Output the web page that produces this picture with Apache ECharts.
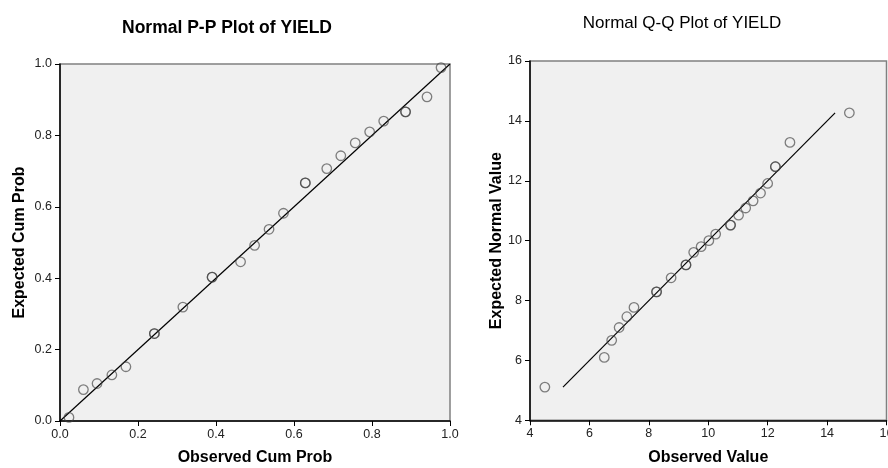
<!DOCTYPE html>
<html><head><meta charset="utf-8">
<script src="https://cdn.jsdelivr.net/npm/echarts@6/dist/echarts.min.js"></script>
<style>html,body{margin:0;padding:0;background:#fff}#c{width:888px;height:468px}</style>
</head><body><div id="c"></div>
<script>
// P-P plot: observed cum prob vs expected cum prob (tied points listed twice)
const ppObserved = [0.023,0.060,0.095,0.133,0.169,0.242,0.242,0.315,0.390,0.390,0.463,0.499,0.536,0.573,0.629,0.629,0.684,0.720,0.757,0.794,0.830,0.886,0.886,0.941,0.977];
const ppExpected = [0.010,0.088,0.105,0.129,0.152,0.245,0.245,0.319,0.403,0.403,0.446,0.492,0.537,0.582,0.667,0.667,0.707,0.743,0.779,0.810,0.840,0.866,0.866,0.908,0.990];
const ppLine = [[0,0],[1,1]];
// Q-Q plot: observed value vs expected normal value
const qqObserved = [4.50,6.50,6.75,7.00,7.26,7.50,8.26,8.26,8.75,9.25,9.25,9.51,9.76,10.02,10.25,10.75,10.75,11.02,11.26,11.51,11.76,12.00,12.26,12.26,12.75,14.75];
const qqExpected = [5.11,6.10,6.67,7.10,7.46,7.77,8.29,8.29,8.76,9.19,9.19,9.61,9.80,10.00,10.22,10.52,10.52,10.85,11.09,11.33,11.59,11.91,12.47,12.47,13.28,14.27];
const qqLine = [[5.11,5.11],[14.27,14.27]];
const ppTicks = [0,0.2,0.4,0.6,0.8,1.0];
const qqTicks = [4,6,8,10,12,14,16];

const FONT = 'Liberation Sans';
const chart = echarts.init(document.getElementById('c'), null, {renderer:'canvas'});
const zip = (a,b)=>a.map((v,i)=>[v,b[i]]);
function axis(gi, ticks, name, dir, fmt, gap){
  return {
    gridIndex: gi, type:'value', min:ticks[0], max:ticks[ticks.length-1], interval:ticks[1]-ticks[0],
    name, nameLocation:'middle', nameGap: gap,
    nameTextStyle:{fontFamily:FONT,fontWeight:'bold',fontSize:16,color:'#000'},
    axisLine:{show:true,onZero:false,lineStyle:{color:'#000',width:1.5}},
    axisTick:{show:true,length:5,lineStyle:{color:'#000'}},
    axisLabel:{fontFamily:FONT,fontSize:12.5,color:'#222',margin:dir==='x'?7:8,formatter:fmt,hideOverlap:false,showMaxLabel:true,showMinLabel:true},
    splitLine:{show:false}
  };
}
const sym = {symbol:'circle',symbolSize:9.5,itemStyle:{color:'rgba(0,0,0,0)',borderColor:'rgba(60,60,60,0.8)',borderWidth:1.3}};
chart.setOption({
  animation:false,
  title:[
    {text:'Normal P-P Plot of YIELD',left:222,top:14,textAlign:'center',textStyle:{fontFamily:FONT,fontWeight:'bold',fontSize:17.5,color:'#000'}},
    {text:'Normal Q-Q Plot of YIELD',left:677,top:10,textAlign:'center',textStyle:{fontFamily:FONT,fontWeight:'normal',fontSize:17,color:'#000'}}
  ],
  grid:[
    {left:60,top:64,width:390,height:357,show:true,backgroundColor:'#f0f0f0',borderColor:'#808080',borderWidth:1.5,outerBoundsMode:'none',containLabel:false},
    {left:530,top:61,width:356.5,height:359.3,show:true,backgroundColor:'#f0f0f0',borderColor:'#808080',borderWidth:1.5,outerBoundsMode:'none',containLabel:false}
  ],
  xAxis:[
    axis(0,ppTicks,'Observed Cum Prob','x',v=>v.toFixed(1),29),
    axis(1,qqTicks,'Observed Value','x',v=>String(v),29)
  ],
  yAxis:[
    axis(0,ppTicks,'Expected Cum Prob','y',v=>v.toFixed(1),32),
    axis(1,qqTicks,'Expected Normal Value','y',v=>String(v),25)
  ],
  series:[
    {type:'line',xAxisIndex:0,yAxisIndex:0,data:ppLine,showSymbol:false,lineStyle:{color:'#000',width:1.2},z:2},
    Object.assign({type:'scatter',xAxisIndex:0,yAxisIndex:0,data:zip(ppObserved,ppExpected),z:3},sym),
    {type:'line',xAxisIndex:1,yAxisIndex:1,data:qqLine,showSymbol:false,lineStyle:{color:'#000',width:1.2},z:2},
    Object.assign({type:'scatter',xAxisIndex:1,yAxisIndex:1,data:zip(qqObserved,qqExpected),z:3},sym)
  ]
});
</script></body></html>
